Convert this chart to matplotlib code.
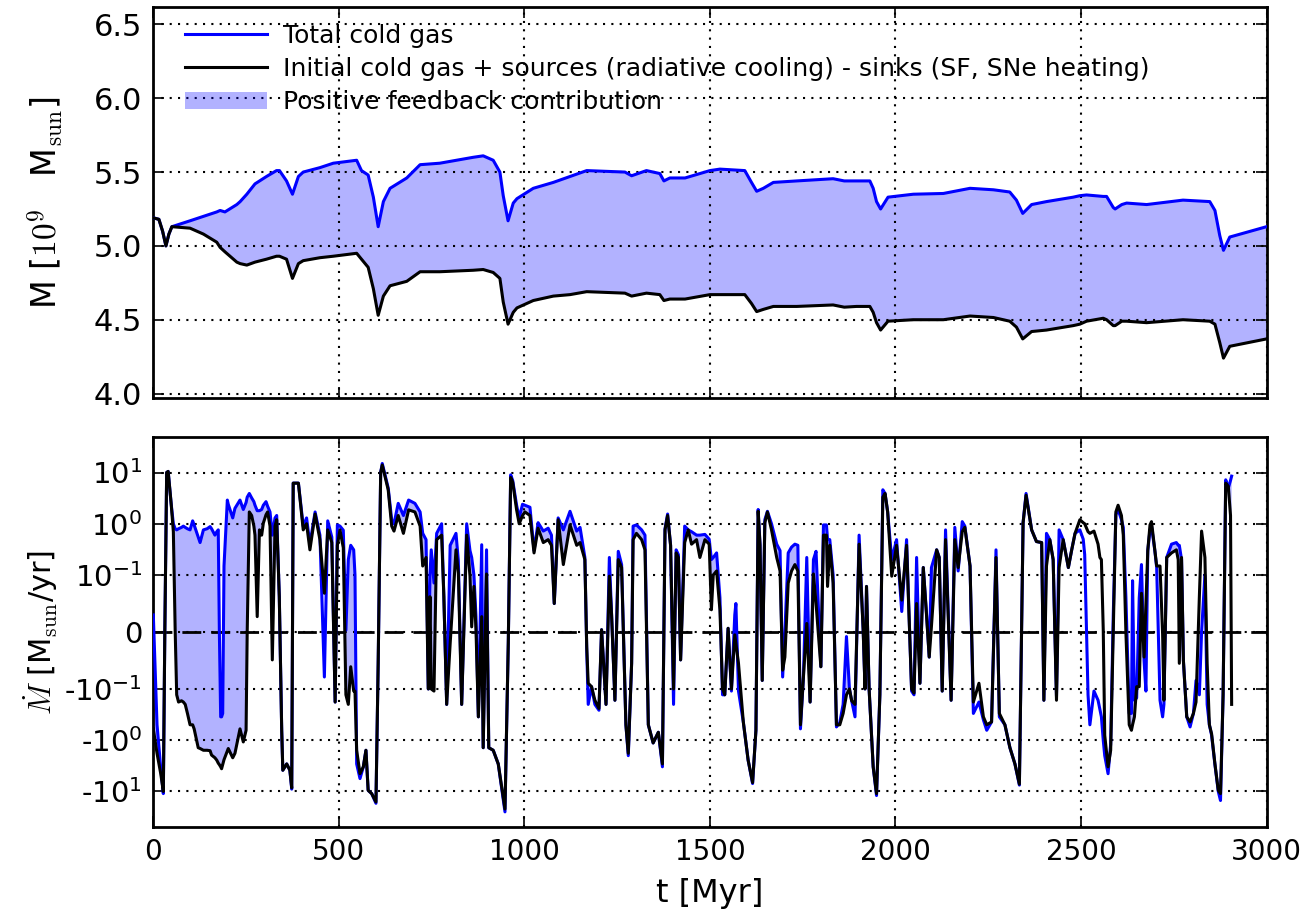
import numpy as np
import matplotlib
matplotlib.use('Agg')
import matplotlib.pyplot as plt
from matplotlib.ticker import NullLocator

plt.rcParams['font.family'] = ['DejaVu Sans']
plt.rcParams['mathtext.fontset'] = 'cm'

# ---------------- top panel: cold gas mass [1e9 Msun] ----------------
t_mass = [0, 15, 25, 34, 42, 50, 99, 135, 171, 180, 193, 225, 234, 252, 274, 305, 332, 340,
          359, 375, 391, 404, 449, 485, 548, 561, 579, 593, 606, 620, 638, 683, 719, 772,
          862, 889, 916, 934, 943, 956, 970, 980, 1024, 1078, 1123, 1168, 1271, 1289, 1329,
          1365, 1376, 1392, 1433, 1500, 1527, 1594, 1612, 1626, 1644, 1671, 1734, 1832, 1862,
          1895, 1931, 1940, 1949, 1960, 1980, 2048, 2129, 2201, 2264, 2308, 2326, 2343, 2367,
          2407, 2479, 2497, 2515, 2560, 2569, 2587, 2592, 2610, 2623, 2677, 2775, 2847, 2861,
          2874, 2884, 2901, 3000]
mass_total = [5.19, 5.18, 5.10, 5.00, 5.08, 5.13, 5.17, 5.20, 5.23, 5.24, 5.23, 5.28, 5.30,
              5.35, 5.42, 5.47, 5.51, 5.51, 5.44, 5.35, 5.47, 5.50, 5.53, 5.56, 5.58, 5.51,
              5.48, 5.33, 5.13, 5.30, 5.39, 5.46, 5.55, 5.56, 5.60, 5.61, 5.58, 5.50, 5.34,
              5.17, 5.29, 5.32, 5.39, 5.43, 5.47, 5.51, 5.50, 5.475, 5.51, 5.49, 5.44, 5.46,
              5.46, 5.51, 5.52, 5.51, 5.43, 5.37, 5.39, 5.43, 5.44, 5.455, 5.44, 5.44, 5.44,
              5.39, 5.30, 5.25, 5.33, 5.35, 5.355, 5.39, 5.38, 5.365, 5.31, 5.22, 5.28, 5.30,
              5.33, 5.34, 5.345, 5.335, 5.335, 5.26, 5.25, 5.28, 5.29, 5.28, 5.31, 5.30, 5.24,
              5.07, 4.97, 5.06, 5.13]
mass_budget = [5.19, 5.18, 5.10, 5.00, 5.08, 5.13, 5.12, 5.08, 5.025, 4.99, 4.96, 4.89, 4.88,
               4.87, 4.89, 4.91, 4.93, 4.93, 4.91, 4.78, 4.88, 4.90, 4.92, 4.93, 4.95, 4.91,
               4.855, 4.71, 4.53, 4.66, 4.73, 4.76, 4.825, 4.825, 4.835, 4.84, 4.82, 4.78,
               4.62, 4.47, 4.55, 4.58, 4.63, 4.66, 4.67, 4.69, 4.68, 4.66, 4.68, 4.67, 4.63,
               4.64, 4.64, 4.67, 4.67, 4.67, 4.61, 4.555, 4.57, 4.59, 4.59, 4.60, 4.585, 4.59,
               4.59, 4.55, 4.48, 4.43, 4.49, 4.50, 4.50, 4.525, 4.515, 4.49, 4.45, 4.37, 4.42,
               4.43, 4.46, 4.47, 4.49, 4.51, 4.50, 4.46, 4.46, 4.49, 4.49, 4.48, 4.50, 4.49,
               4.47, 4.345, 4.24, 4.32, 4.37]

# ---------------- bottom panel: mass rate [Msun/yr] ----------------
t_rate = [0, 10, 20, 27, 31, 36, 40, 48, 54, 59, 63, 68, 76, 81, 86, 92, 99, 106, 110, 121,
          126, 135, 145, 153, 157, 166, 171, 175, 178, 181.5, 184, 187, 190.5, 199.5, 202, 214,
          220, 233.6, 242.5, 250, 253, 258.7, 265, 271, 274, 280, 286, 292, 296.5, 303.7, 308,
          314.5, 320.7, 328, 332.5, 339.5, 346, 349, 359.5, 368, 373, 377, 391, 404, 413, 422,
          436, 449, 461, 470, 481, 490, 496, 503, 512, 519, 525.5, 532, 540, 543.5, 548, 557,
          566, 573, 579, 588.5, 600, 606, 612.7, 617, 633, 642.4, 648.6, 660, 674, 688, 705,
          719, 726, 735, 741, 745.6, 749, 756.4, 763.6, 777, 783, 790.6, 800, 815.7, 822, 831,
          844.5, 853.4, 858, 864, 869.6, 876, 885, 889, 898, 904, 916, 929.6, 947.7, 956.6,
          963, 968.5, 979, 986, 995, 1001.5, 1015, 1026, 1037, 1051, 1064, 1073, 1080.5, 1091,
          1105, 1123, 1141, 1150, 1163, 1168, 1172, 1181, 1190, 1201, 1208, 1220, 1229, 1235,
          1244, 1253, 1262, 1273.6, 1280, 1289, 1293, 1302, 1316, 1325, 1334, 1347, 1361, 1372,
          1379, 1386, 1394, 1402, 1409, 1415, 1421, 1432, 1441.5, 1450.5, 1464, 1473, 1486.5,
          1498, 1504, 1509, 1518, 1527, 1534, 1540, 1549, 1558, 1567, 1570, 1577, 1590, 1603,
          1615, 1624, 1630, 1635, 1641, 1648, 1655, 1666, 1680, 1689, 1696, 1702, 1711, 1720,
          1729, 1737, 1744, 1752, 1761, 1770, 1779, 1786, 1799, 1806, 1814, 1817, 1823, 1832,
          1841, 1850, 1859, 1868, 1876, 1882, 1891, 1902, 1913, 1918, 1922, 1929, 1940, 1949,
          1958, 1966, 1972, 1979, 1990, 2003, 2017, 2030, 2043.5, 2050, 2057, 2066, 2075,
          2084, 2091, 2097, 2111, 2118, 2126, 2135, 2150, 2160, 2169, 2180, 2187, 2201, 2210,
          2225, 2237, 2246, 2259, 2271, 2280, 2295, 2308.5, 2322, 2334, 2344, 2352, 2367, 2380,
          2394, 2400, 2407, 2416, 2425, 2434, 2441, 2452, 2466, 2475, 2484, 2497, 2506, 2510,
          2519, 2524, 2535, 2546, 2551, 2555, 2560, 2564, 2573, 2580, 2587, 2594, 2600, 2609,
          2614, 2621, 2630, 2636, 2639, 2644, 2650, 2657, 2663, 2670, 2675, 2680, 2686, 2690,
          2699, 2704, 2713, 2720, 2723.5, 2731, 2744, 2757, 2762, 2765, 2771, 2776, 2785, 2794,
          2803, 2810, 2819, 2825, 2834, 2840, 2846, 2852, 2861, 2870, 2876, 2883, 2890, 2897,
          2903, 2906]
rate_total = [0.03, -0.5, -3.5, -11, 0.0, 10, 10.5, 2.5, 1.0, 0.8, 0.76, 0.8, 0.85, 0.9, 0.85,
              0.8, 0.76, 1.14, 0.95, 0.55, 0.43, 0.76, 0.8, 0.88, 0.8, 0.6, 0.7, 0.76, 0.0,
              -0.35, -0.35, -0.3, 0.15, 2.9, 2.4, 1.3, 2.0, 2.9, 1.9, 2.6, 3.3, 3.9, 3.2, 2.7,
              2.3, 1.8, 1.8, 1.9, 2.3, 2.7, 2.2, 1.7, 0.6, 1.3, 1.45, 0.062, -0.64, -3.85, -2.9,
              -3.85, -9, 6.2, 6.2, 0.9, 1.3, 0.4, 1.7, 0.6, -0.079, 1.14, 0.55, -0.18, 0.95, 0.9,
              0.75, 0.003, 0.2, 0.38, 0.31, 0.1, -2.9, -5.6, -3.3, -1.57, -9.5, -11, -17, -0.055,
              10, 15, 5.0, 1.2, 1.0, 2.5, 1.45, 2.9, 2.5, 1.7, 0.65, 0.49, -0.1, 0.1, 0.31, 0.086,
              0.65, 1.0, 0.062, -0.2, 0.38, 0.65, 0.19, -0.2, 1.0, 0.3, 0.22, 0.1, 0.027, -0.35,
              0.39, -1.4, 0.31, -1.4, -1.57, -2.9, -25, -0.02, 9.0, 7.0, 2.3, 1.3, 2.4, 2.3, 2.1,
              0.3, 1.05, 0.72, 0.82, 0.6, 0.05, 1.3, 0.76, 1.75, 0.72, 0.85, 0.22, -0.03, -0.2,
              -0.096, -0.2, -0.26, 0.004, -0.2, 0.22, 0.03, -0.166, 0.29, 0.16, -0.5, -2.0,
              -0.055, 0.9, 0.95, 0.76, 0.6, -0.5, -1.13, -0.7, -3.3, 0.8, 1.55, 0.38, -0.2, 0.31,
              0.25, -0.049, 0.9, 0.76, 0.7, 0.6, 0.6, 0.62, 0.5, 0.2, 0.22, 0.27, 0.06, -0.13,
              -0.13, 0.0065, -0.11, 0.03, 0.05, -0.11, -0.44, -2.45, -7.0, -0.64, 1.9, 0.4,
              -0.085, 1.2, 1.75, 1.0, 0.4, 0.3, -0.079, 0.0, 0.27, 0.35, 0.4, 0.38, -0.6, -0.079,
              0.22, -0.18, 0.2, 0.29, -0.061, 0.95, 0.95, 0.5, 0.49, 0.1, -0.55, -0.45, -0.2,
              -0.008, -0.1, -0.17, -0.35, 0.6, 0.004, -0.1, 0.08, -0.1, -3.3, -12, -0.13, 4.6,
              3.9, 1.7, 0.2, 0.49, 0.036, 0.49, -0.11, -0.13, 0.22, -0.09, 0.14, 0.03, -0.044,
              0.14, 0.31, 0.22, -0.11, 0.76, -0.166, 0.85, 0.12, 1.1, 0.9, 0.15, -0.3, -0.18,
              -0.4, -0.64, -0.44, 0.31, -0.35, -0.5, -1.4, -2.9, -7.5, 1.05, 3.9, 0.76, 0.45,
              0.43, -0.166, 0.65, 0.49, 0.2, -0.14, 0.76, 0.49, 0.14, 0.31, 0.65, 0.76, 0.5, 0.25,
              -0.13, -0.5, -0.11, -0.166, -0.25, -0.35, -1.0, -2.0, -4.5, -1.2, 0.03, 1.5, 1.9,
              1.2, 0.85, 0.062, -0.3, -0.3, 0.09, -0.166, -0.15, 0.06, 0.16, -0.05, -0.11, 0.3,
              0.76, 0.9, 0.3, 0.14, -0.166, -0.35, -0.2, 0.22, 0.4, 0.43, 0.38, 0.38, 0.2, -0.05,
              -0.35, -0.55, -0.3, -0.085, -0.13, 0.0, 0.1, -0.2, -0.5, -0.8, -3.0, -10, -15,
              -0.13, 7.2, 5.0, 7.0, 8.5]
rate_budget = [-0.6, -1.8, -4.5, -10, 0.0, 10, 10.5, 2.5, 0.7, 0.0, -0.13, -0.18, -0.17, -0.18,
               -0.2, -0.3, -0.5, -0.5, -0.6, -1.4, -1.45, -1.57, -1.57, -1.6, -1.95, -2.2,
               -2.45, -2.8, -3.0, -3.3, -3.6, -3.0, -2.4, -1.6, -1.45, -2.2, -1.8, -0.6, -1.08,
               -0.64, 0.0, 1.7, 1.45, 0.9, 0.6, 0.027, 0.76, 0.6, 1.03, 1.5, 1.7, 0.9, -0.049,
               0.9, 1.2, 0.062, -0.64, -3.85, -2.9, -3.85, -8.5, 6.2, 6.2, 0.76, 1.0, 0.31, 1.55,
               0.49, 0.068, 0.76, 0.43, -0.18, 0.38, 0.76, 0.34, -0.13, -0.2, -0.061, -0.11,
               -0.11, -1.57, -4.5, -3.3, -1.57, -9.5, -11, -16, -0.055, 10, 14, 4.6, 0.9, 0.72,
               1.45, 0.65, 1.87, 1.7, 0.9, 0.15, 0.22, -0.1, 0.062, -0.1, -0.11, 0.49, 0.6,
               0.062, -0.2, -0.02, 0.31, 0.11, -0.2, 0.6, 0.098, 0.009, 0.08, 0.004, -0.35,
               0.027, -1.4, 0.105, -1.4, -1.57, -2.9, -22, -0.02, 8.0, 6.5, 1.87, 1.0, 1.45, 1.7,
               1.45, 0.27, 0.82, 0.43, 0.49, 0.38, 0.05, 1.2, 0.16, 0.95, 0.38, 0.43, 0.2,
               -0.026, -0.09, -0.096, -0.166, -0.24, 0.004, -0.2, 0.098, 0.03, -0.166, 0.2, 0.14,
               -0.5, -1.8, -0.055, 0.49, 0.65, 0.49, 0.31, -0.5, -1.13, -0.7, -2.9, 0.76, 1.45,
               0.38, -0.1, 0.27, 0.22, -0.049, 0.43, 0.76, 0.4, 0.49, 0.22, 0.49, 0.4, 0.039,
               0.1, 0.12, 0.039, -0.1, -0.13, 0.0065, -0.1, -0.005, -0.02, -0.055, -0.44, -2.45,
               -6.7, -0.64, 1.75, 0.38, -0.085, 1.05, 1.7, 0.76, 0.22, 0.12, -0.067, -0.044,
               0.086, 0.12, 0.16, 0.12, -0.5, -0.079, 0.015, -0.18, 0.105, 0.05, -0.061, 0.6,
               0.6, 0.08, 0.38, 0.086, -0.5, -0.5, -0.3, -0.13, -0.1, -0.17, -0.2, 0.4, 0.004,
               -0.1, 0.08, -0.1, -3.3, -11, -0.13, 3.3, 3.9, 1.7, 0.098, 0.38, 0.056, 0.38, -0.1,
               -0.12, 0.05, -0.09, 0.14, 0.027, -0.044, 0.01, 0.31, 0.22, -0.11, 0.49, -0.166,
               0.49, 0.14, 0.7, 0.85, 0.15, -0.18, -0.09, -0.35, -0.5, -0.44, 0.22, -0.3, -0.5,
               -1.4, -2.9, -7.2, 1.05, 3.6, 0.76, 0.45, 0.43, -0.166, 0.15, 0.49, 0.2, -0.166,
               0.14, 0.49, 0.14, 0.31, 0.65, 1.2, 1.05, 1.0, 0.7, 0.65, 0.72, 0.4, 0.22, 0.2,
               0.004, -0.8, -3.3, -1.57, 0.004, 1.7, 2.3, 1.45, 0.6, 0.0, -0.5, -0.64, -0.5,
               -0.35, -0.096, -0.096, 0.068, -0.044, 0.05, 0.3, 0.95, 1.1, 0.31, 0.15, 0.15,
               -0.004, -0.166, 0.22, 0.27, 0.31, 0.2, -0.055, 0.22, -0.05, -0.35, -0.44, -0.3,
               -0.18, 0.062, 0.72, 0.22, -0.055, -0.5, -0.75, -2.9, -9.5, -11, -0.13, 6.2, 5.4,
               1.45, -0.2]

# ---------------- ticks / labels ----------------
time_ticks = [0, 500, 1000, 1500, 2000, 2500, 3000]
time_ticklabels = ['0', '500', '1000', '1500', '2000', '2500', '3000']
mass_ticks = [4.0, 4.5, 5.0, 5.5, 6.0, 6.5]
mass_ticklabels = ['4.0', '4.5', '5.0', '5.5', '6.0', '6.5']
rate_ticks = [-10, -1, -0.1, 0, 0.1, 1, 10]
rate_ticklabels = [r'-$\mathdefault{10^{1}}$', r'-$\mathdefault{10^{0}}$',
                   r'-$\mathdefault{10^{-1}}$', '0', r'$\mathdefault{10^{-1}}$',
                   r'$\mathdefault{10^{0}}$', r'$\mathdefault{10^{1}}$']
legend_labels = ['Total cold gas',
                 'Initial cold gas + sources (radiative cooling) - sinks (SF, SNe heating)',
                 'Positive feedback contribution']

grid_style = dict(color='black', linestyle=(0, (1, 3)), linewidth=1.5)

fig = plt.figure(figsize=(13.16, 9.17), dpi=100)
ax1 = fig.add_axes([0.1165, 0.566, 0.8459, 0.4267])
ax2 = fig.add_axes([0.1165, 0.0978, 0.8459, 0.426])

# top panel
tm = np.array(t_mass)
mt = np.array(mass_total)
mb = np.array(mass_budget)
l1, = ax1.plot(tm, mt, color='#0000ff', lw=2.2, zorder=3)
l2, = ax1.plot(tm, mb, color='black', lw=2.2, zorder=4)
f1 = ax1.fill_between(tm, mb, mt, facecolor='blue', alpha=0.3, lw=0, zorder=2)
ax1.set_xlim(0, 3000)
ax1.set_ylim(3.97, 6.62)
ax1.set_yticks(mass_ticks, mass_ticklabels)
ax1.set_xticks(time_ticks)
ax1.tick_params(labelbottom=False)
ax1.set_ylabel(r'M [$10^9$   M$_{\rm sun}$]', fontsize=24, labelpad=20)
ax1.legend([l1, l2, f1], legend_labels, loc='upper left', bbox_to_anchor=(0.0125, 1.0),
           frameon=False, fontsize=18, handlelength=3.3, handletextpad=0.65,
           labelspacing=0.36, borderaxespad=0.3)

# bottom panel
tr = np.array(t_rate)
rt = np.array(rate_total)
rb = np.array(rate_budget)
ax2.set_yscale('symlog', linthresh=0.1, linscale=1)
ax2.fill_between(tr, rb, rt, where=rt >= rb, interpolate=True,
                 facecolor='blue', alpha=0.3, lw=0, zorder=2)
ax2.axhline(0, color='black', lw=2, ls=(0, (6.8, 3.6)), zorder=2.5)
ax2.plot(tr, rt, color='#0000ff', lw=2.2, zorder=3)
ax2.plot(tr, rb, color='black', lw=2.2, zorder=4)
ax2.set_xlim(0, 3000)
ax2.set_ylim(-50, 50)
ax2.set_yticks(rate_ticks, rate_ticklabels)
ax2.yaxis.set_minor_locator(NullLocator())
ax2.set_xticks(time_ticks, time_ticklabels)
ax2.set_xlabel('t [Myr]', fontsize=23, labelpad=8)
ax2.set_ylabel(r'$\dot{M}$ [M$_{\rm sun}$/yr]', fontsize=22, labelpad=3)

for ax in (ax1, ax2):
    ax.grid(True, **grid_style)
    ax.set_axisbelow(False)
    for sp in ax.spines.values():
        sp.set_linewidth(2)
    ax.tick_params(direction='in', length=8, width=1.2, top=True, right=True,
                   labelsize=20, pad=8)
ax1.tick_params(axis='y', labelsize=22)
ax2.tick_params(axis='y', labelsize=21)

fig.savefig('out.png', dpi=100)
